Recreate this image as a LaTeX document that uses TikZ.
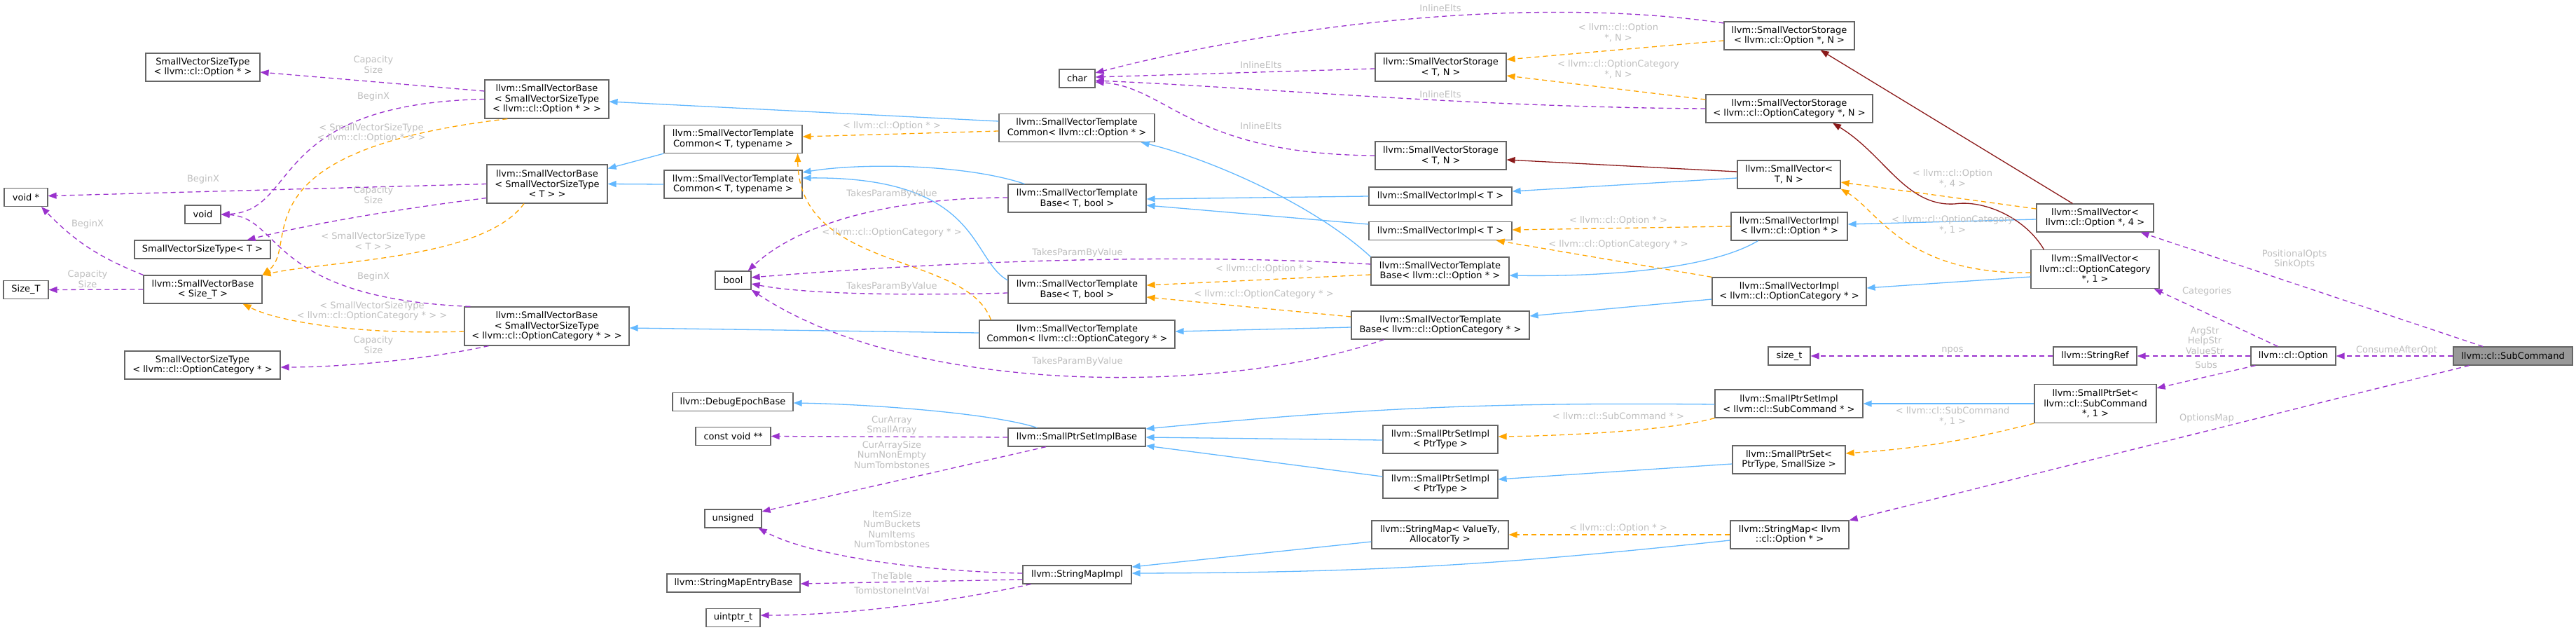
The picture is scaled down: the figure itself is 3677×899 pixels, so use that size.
\documentclass[tikz,border=0pt]{standalone}
\usepackage{fontspec}
\setmainfont{DejaVu Sans}
\usepackage{tikz}
\usetikzlibrary{arrows.meta}

\definecolor{boxgray}{HTML}{666666}
\definecolor{curgray}{HTML}{999999}
\definecolor{labgray}{HTML}{BEBEBE}
\definecolor{usecol}{HTML}{9A32CD}
\definecolor{tmplcol}{HTML}{FFA500}
\definecolor{inhcol}{HTML}{63B8FF}
\definecolor{privcol}{HTML}{8B1A1A}
\newcommand{\graphfont}{\fontsize{13}{14.5}\selectfont}

\begin{document}
\begin{tikzpicture}[x=1pt, y=1pt,
			cls/.style={draw=boxgray, fill=white, line width=1.2pt, inner sep=2pt, minimum height=26pt, align=center, font=\graphfont},
			h2/.style={minimum height=40pt},
			h3/.style={minimum height=55pt},
			cur/.style={cls, fill=curgray},
			edgebase/.style={line width=1.3pt, -{Triangle[length=12pt,width=9pt]}},
			useedge/.style={edgebase, usecol, dashed, dash pattern=on 7pt off 5pt},
			tmpledge/.style={edgebase, tmplcol, dashed, dash pattern=on 7pt off 5pt},
			inhedge/.style={edgebase, inhcol},
			privedge/.style={edgebase, privcol},
			lab/.style={font=\graphfont, text=labgray, align=center, inner sep=0pt}
			]
			\useasboundingbox (0,0) rectangle (3677,-899);
			
			% --------------------------------------------------------------------
			% left columns
			% --------------------------------------------------------------------
			\node[cls,h2,minimum width=163pt] (svstOpt) at (289.5,-96) {SmallVectorSizeType\\< llvm::cl::Option * >};
			\node[cls,minimum width=62pt] (voidPtr) at (37,-281.5) {void *};
			\node[cls,minimum width=51pt] (voidT) at (289.5,-306) {void};
			\node[cls,minimum width=194pt] (svstT) at (289,-356) {SmallVectorSizeType< T >};
			\node[cls,minimum width=64pt] (sizeT) at (37,-413.5) {Size\_T};
			\node[cls,h2,minimum width=169pt] (svbSize) at (289.5,-413) {llvm::SmallVectorBase\\< Size\_T >};
			\node[cls,h2,minimum width=222pt] (svstCat) at (289,-521) {SmallVectorSizeType\\< llvm::cl::OptionCategory * >};
			
			\node[cls,h3,minimum width=177pt] (svbOpt) at (780.5,-141.5) {llvm::SmallVectorBase\\< SmallVectorSizeType\\< llvm::cl::Option * > >};
			\node[cls,h3,minimum width=172pt] (svbT) at (781,-262.5) {llvm::SmallVectorBase\\< SmallVectorSizeType\\< T > >};
			\node[cls,h3,minimum width=235pt] (svbCat) at (780.5,-465.5) {llvm::SmallVectorBase\\< SmallVectorSizeType\\< llvm::cl::OptionCategory * > >};
			
			\node[cls,h2,minimum width=197pt] (svtcA) at (1046.5,-198.5) {llvm::SmallVectorTemplate\\Common< T, typename >};
			\node[cls,h2,minimum width=197pt] (svtcB) at (1046.5,-263) {llvm::SmallVectorTemplate\\Common< T, typename >};
			\node[cls,minimum width=51pt] (boolT) at (1046.5,-400) {bool};
			\node[cls,minimum width=172pt] (epoch) at (1046,-573.5) {llvm::DebugEpochBase};
			\node[cls,minimum width=107pt] (cvoid) at (1046.5,-622.5) {const void **};
			\node[cls,minimum width=81pt] (unsignedT) at (1046.5,-740) {unsigned};
			\node[cls,minimum width=190pt] (smEntry) at (1047,-832) {llvm::StringMapEntryBase};
			\node[cls,minimum width=77pt] (uintptrT) at (1046.5,-881.5) {uintptr\_t};
			
			% --------------------------------------------------------------------
			% middle columns
			% --------------------------------------------------------------------
			\node[cls,minimum width=51pt] (charT) at (1537.5,-112) {char};
			\node[cls,h2,minimum width=222pt] (svtcOpt) at (1537,-182.5) {llvm::SmallVectorTemplate\\Common< llvm::cl::Option * >};
			\node[cls,h2,minimum width=197pt] (svtbA) at (1537.5,-283) {llvm::SmallVectorTemplate\\Base< T, bool >};
			\node[cls,h2,minimum width=197pt] (svtbB) at (1537.5,-413) {llvm::SmallVectorTemplate\\Base< T, bool >};
			\node[cls,h2,minimum width=279pt] (svtcCat) at (1537.5,-477) {llvm::SmallVectorTemplate\\Common< llvm::cl::OptionCategory * >};
			\node[cls,minimum width=196pt] (spsBase) at (1537,-624) {llvm::SmallPtrSetImplBase};
			\node[cls,minimum width=155pt] (smImpl) at (1537.5,-820) {llvm::StringMapImpl};
			
			\node[cls,h2,minimum width=187pt] (svsA) at (2056.5,-96) {llvm::SmallVectorStorage\\< T, N >};
			\node[cls,h2,minimum width=187pt] (svsB) at (2056.5,-222) {llvm::SmallVectorStorage\\< T, N >};
			\node[cls,minimum width=204pt] (sviA) at (2056,-280) {llvm::SmallVectorImpl< T >};
			\node[cls,minimum width=204pt] (sviB) at (2056,-329.5) {llvm::SmallVectorImpl< T >};
			\node[cls,h2,minimum width=197pt] (svtbOpt) at (2055.5,-387) {llvm::SmallVectorTemplate\\Base< llvm::cl::Option * >};
			\node[cls,h2,minimum width=254pt] (svtbCat) at (2056,-464) {llvm::SmallVectorTemplate\\Base< llvm::cl::OptionCategory * >};
			\node[cls,h2,minimum width=164pt] (spsiA) at (2056,-627) {llvm::SmallPtrSetImpl\\< PtrType >};
			\node[cls,h2,minimum width=164pt] (spsiB) at (2056,-691) {llvm::SmallPtrSetImpl\\< PtrType >};
			\node[cls,h2,minimum width=195pt] (smVA) at (2055.5,-763) {llvm::StringMap< ValueTy,\\AllocatorTy >};
			
			% --------------------------------------------------------------------
			% right columns
			% --------------------------------------------------------------------
			\node[cls,h2,minimum width=186pt] (svsOpt) at (2554,-51) {llvm::SmallVectorStorage\\< llvm::cl::Option *, N >};
			\node[cls,h2,minimum width=238pt] (svsCat) at (2554,-155) {llvm::SmallVectorStorage\\< llvm::cl::OptionCategory *, N >};
			\node[cls,h2,minimum width=147pt] (svTN) at (2553.5,-249) {llvm::SmallVector<\\T, N >};
			\node[cls,h2,minimum width=166pt] (sviOpt) at (2554,-323) {llvm::SmallVectorImpl\\< llvm::cl::Option * >};
			\node[cls,h2,minimum width=220pt] (sviCat) at (2554,-416) {llvm::SmallVectorImpl\\< llvm::cl::OptionCategory * >};
			\node[cls,minimum width=60pt] (sizetT) at (2554,-508) {size\_t};
			\node[cls,h2,minimum width=211pt] (spsiSub) at (2553.5,-576) {llvm::SmallPtrSetImpl\\< llvm::cl::SubCommand * >};
			\node[cls,h2,minimum width=161pt] (spsPT) at (2553.5,-656) {llvm::SmallPtrSet<\\PtrType, SmallSize >};
			\node[cls,h2,minimum width=169pt] (smOpt) at (2554.5,-763) {llvm::StringMap< llvm\\::cl::Option * >};
			
			\node[cls,h2,minimum width=167pt] (svOpt4) at (2990.5,-311) {llvm::SmallVector<\\llvm::cl::Option *, 4 >};
			\node[cls,h3,minimum width=183pt] (svCat1) at (2990.5,-384) {llvm::SmallVector<\\llvm::cl::OptionCategory\\*, 1 >};
			\node[cls,minimum width=119pt] (strRef) at (2990.5,-508) {llvm::StringRef};
			\node[cls,h3,minimum width=174pt] (spsSub) at (2991,-576) {llvm::SmallPtrSet<\\llvm::cl::SubCommand\\*, 1 >};
			\node[cls,minimum width=121pt] (clOption) at (3273.5,-508) {llvm::cl::Option};
			\node[cur,minimum width=170pt] (subCmd) at (3587,-508) {llvm::cl::SubCommand};
			
			% --------------------------------------------------------------------
			% member usage (purple)
			% --------------------------------------------------------------------
			\draw[useedge] ([yshift=11.5pt]svbOpt.west) -- ([yshift=-7pt]svstOpt.east);
			\draw[useedge] (svbOpt.west) .. controls +(-312,-7) and +(113,5) .. (voidT.east);
			\draw[useedge] (svbT.west) -- ([yshift=2pt]voidPtr.east);
			\draw[useedge] ([yshift=-20pt]svbT.west) .. controls +(-120,-15) and +(100,25) .. ([xshift=-34pt]svstT.north east);
			\draw[useedge] (svbSize.north west) to[bend left=12] ([xshift=22pt]voidPtr.south);
			\draw[useedge] (svbSize.west) -- (sizeT.east);
			\draw[useedge] ([xshift=9pt]svbCat.north west) .. controls +(-292,12) and +(88,-4) .. (voidT.east);
			\draw[useedge] ([xshift=35pt]svbCat.south west) .. controls +(-98,-21) and +(80,0) .. ([yshift=-3pt]svstCat.east);
			
			\draw[useedge] ([yshift=18pt]svsOpt.west) .. controls +(-261,38) and +(287,74) .. ([yshift=8pt]charT.east);
			\draw[useedge] ([yshift=-2pt]svsA.west) -- ([yshift=2pt]charT.east);
			\draw[useedge] (svsCat.west) .. controls +(-335,2) and +(237,-10) .. ([yshift=-3pt]charT.east);
			\draw[useedge] (svsB.west) .. controls +(-263,2) and +(105,-8) .. ([yshift=-5pt]charT.east);
			
			\draw[useedge] ([yshift=1pt]svtbA.west) .. controls +(-139,0) and +(83,77) .. ([xshift=-5pt]boolT.north east);
			\draw[useedge] ([yshift=10pt]svtbOpt.west) .. controls +(-207,12) and +(378,31) .. ([yshift=4pt]boolT.east);
			\draw[useedge] ([yshift=-5pt]svtbB.west) .. controls +(-139,-4) and +(78,-15) .. ([yshift=-5pt]boolT.east);
			\draw[useedge] ([xshift=47pt]svtbCat.south west) .. controls +(-226,-80) and +(228,-152) .. (boolT.south east);
			
			\draw[useedge] (spsBase.west) -- (cvoid.east);
			\draw[useedge] ([xshift=-44pt]spsBase.south) -- ([yshift=10pt]unsignedT.east);
			\draw[useedge] ([yshift=2pt]smImpl.west) .. controls +(-157,3) and +(68,-37) .. ([xshift=-5pt]unsignedT.south east);
			\draw[useedge] ([yshift=-7pt]smImpl.west) -- ([yshift=-1pt]smEntry.east);
			\draw[useedge] ([xshift=12pt]smImpl.south west) .. controls +(-122,-27) and +(115,0) .. ([yshift=3.5pt]uintptrT.east);
			
			\draw[useedge] (strRef.west) -- (sizetT.east);
			\draw[useedge] (clOption.west) -- (strRef.east);
			\draw[useedge] ([xshift=-22pt]clOption.north) -- ([xshift=-8pt]svCat1.south east);
			\draw[useedge] ([xshift=7pt]clOption.south west) -- ([yshift=-6pt]spsSub.north east);
			\draw[useedge] (subCmd.west) -- (clOption.east);
			\draw[useedge] ([xshift=-43pt]subCmd.north) -- ([xshift=-19pt]svOpt4.south east);
			\draw[useedge] ([xshift=23pt]subCmd.south west) -- (smOpt.north east);
			
			% --------------------------------------------------------------------
			% public inheritance (blue)
			% --------------------------------------------------------------------
			\draw[inhedge] ([yshift=9.5pt]svtcOpt.west) -- ([yshift=-3.5pt]svbOpt.east);
			\draw[inhedge] (svtcA.south west) -- ([yshift=22pt]svbT.east);
			\draw[inhedge] (svtcB.west) -- (svbT.east);
			\draw[inhedge] ([xshift=24pt]svtbA.north west) .. controls +(-83,28) and +(85,14) .. ([yshift=17pt]svtcB.east);
			\draw[inhedge] ([yshift=13pt]svtbB.west) .. controls +(-54,30) and +(255,2) .. ([yshift=9pt]svtcB.east);
			\draw[inhedge] (sviA.west) -- ([yshift=-1pt]svtbA.east);
			\draw[inhedge] ([yshift=9.5pt]sviB.west) -- ([yshift=-10pt]svtbA.east);
			\draw[inhedge] (svtbOpt.north west) .. controls +(-85,78) and +(92,-22) .. ([xshift=-20pt]svtcOpt.south east);
			\draw[inhedge] ([xshift=39pt]sviOpt.south west) .. controls +(-70,-42) and +(126,-2) .. ([yshift=-6pt]svtbOpt.east);
			\draw[inhedge] ([yshift=-11pt]sviCat.west) -- ([yshift=13pt]svtbCat.east);
			\draw[inhedge] ([yshift=-3pt]svtbCat.west) -- ([yshift=4pt]svtcCat.east);
			\draw[inhedge] ([yshift=2pt]svtcCat.west) -- ([yshift=-2.5pt]svbCat.east);
			\draw[inhedge] ([yshift=-5pt]svTN.west) -- ([yshift=7pt]sviA.east);
			\draw[inhedge] ([yshift=-2pt]svOpt4.west) -- ([yshift=3pt]sviOpt.east);
			\draw[inhedge] ([yshift=-11pt]svCat1.west) -- ([yshift=5pt]sviCat.east);
			
			\draw[inhedge] ([yshift=-1pt]spsiSub.west) to[bend right=3] ([yshift=12pt]spsBase.east);
			\draw[inhedge] ([yshift=-1pt]spsiA.west) -- (spsBase.east);
			\draw[inhedge] ([yshift=11pt]spsiB.west) -- ([yshift=-12pt]spsBase.east);
			\draw[inhedge] ([yshift=-6pt]spsPT.west) -- ([yshift=7pt]spsiB.east);
			\draw[inhedge] (spsSub.west) -- (spsiSub.east);
			\draw[inhedge] ([xshift=42pt]spsBase.north west) .. controls +(-61,20) and +(118,-2) .. ([yshift=-1.5pt]epoch.east);
			\draw[inhedge] ([yshift=-10pt]smVA.west) -- ([yshift=11pt]smImpl.east);
			\draw[inhedge] ([yshift=-8pt]smOpt.west) to[bend left=3] ([yshift=2pt]smImpl.east);
			
			% --------------------------------------------------------------------
			% private inheritance (dark red)
			% --------------------------------------------------------------------
			\draw[privedge] ([yshift=4pt]svTN.west) -- ([yshift=-6pt]svsB.east);
			\draw[privedge] ([xshift=52pt]svOpt4.north west) -- ([xshift=-49pt]svsOpt.south east);
			\draw[privedge] ([xshift=19pt]svCat1.north west) .. controls +(-28,47) and +(40,6) .. (2790,-291)
				.. controls +(-70,-4) and +(74,-45) .. ([xshift=62pt]svsCat.south);
			
			% --------------------------------------------------------------------
			% template instances (orange)
			% --------------------------------------------------------------------
			\draw[tmpledge] ([xshift=33pt]svbOpt.south west) .. controls +(-395,-46) and +(56,43) .. (svbSize.north east);
			\draw[tmpledge] ([xshift=-33pt]svbT.south) .. controls +(-58,-80) and +(96,21) .. (svbSize.north east);
			\draw[tmpledge] ([yshift=-7.5pt]svbCat.west) .. controls +(-143,-5) and +(54,-27) .. ([xshift=-28pt]svbSize.south east);
			\draw[tmpledge] ([yshift=-4.5pt]svtcOpt.west) -- ([yshift=3.5pt]svtcA.east);
			\draw[tmpledge] ([xshift=17pt]svtcCat.north west) .. controls +(-35,97) and +(2,-170) .. ([xshift=-7pt]svtcA.south east);
			\draw[tmpledge] ([yshift=-7pt]svsOpt.west) -- ([yshift=11pt]svsA.east);
			\draw[tmpledge] ([yshift=13pt]svsCat.west) -- ([yshift=-12pt]svsA.east);
			\draw[tmpledge] ([yshift=13pt]svOpt4.west) -- ([yshift=-11pt]svTN.east);
			\draw[tmpledge] ([yshift=-5pt]svCat1.west) .. controls +(-179,-3) and +(53,-31) .. (svTN.south east);
			\draw[tmpledge] (sviOpt.west) -- ([yshift=1.5pt]sviB.east);
			\draw[tmpledge] (sviCat.north west) -- ([xshift=-23pt]sviB.south east);
			\draw[tmpledge] ([yshift=-5pt]svtbOpt.west) -- ([yshift=6pt]svtbB.east);
			\draw[tmpledge] ([yshift=12pt]svtbCat.west) -- ([yshift=-11pt]svtbB.east);
			\draw[tmpledge] (spsiSub.south west) .. controls +(-68,-19) and +(82,1) .. ([yshift=4pt]spsiA.east);
			\draw[tmpledge] (spsSub.south west) to[bend left=5] ([yshift=9pt]spsPT.east);
			\draw[tmpledge] (smOpt.west) -- (smVA.east);
			
			% --------------------------------------------------------------------
			% edge labels
			% --------------------------------------------------------------------
			\node[lab] (labA1) at (533,-92) {Capacity\\Size};
			\node[lab] (labA2) at (533,-138) {BeginX};
			\node[lab] (labA3) at (530,-190) {< SmallVectorSizeType\\< llvm::cl::Option * > >};
			\node[lab] (labA4) at (290,-256) {BeginX};
			\node[lab] (labA5) at (533,-278) {Capacity\\Size};
			\node[lab] (labA6) at (125,-320) {BeginX};
			\node[lab] (labA7) at (533,-344) {< SmallVectorSizeType\\< T > >};
			\node[lab] (labA8) at (125,-398) {Capacity\\Size};
			\node[lab] (labA9) at (533,-395) {BeginX};
			\node[lab] (labA10) at (531,-444) {< SmallVectorSizeType\\< llvm::cl::OptionCategory * > >};
			\node[lab] (labA11) at (533,-492) {Capacity\\Size};
			
			\node[lab] (labB1) at (1273,-180) {< llvm::cl::Option * >};
			\node[lab] (labB2) at (1273,-277) {TakesParamByValue};
			\node[lab] (labB3) at (1273,-332) {< llvm::cl::OptionCategory * >};
			\node[lab] (labB4) at (1538,-361) {TakesParamByValue};
			\node[lab] (labB5) at (1273,-409) {TakesParamByValue};
			\node[lab] (labB6) at (1538,-516) {TakesParamByValue};
			\node[lab] (labB7) at (1273,-607) {CurArray\\SmallArray};
			\node[lab] (labB8) at (1273,-649) {CurArraySize\\NumNonEmpty\\NumTombstones};
			\node[lab] (labB9) at (1273,-755) {ItemSize\\NumBuckets\\NumItems\\NumTombstones};
			\node[lab] (labB10) at (1273,-822) {TheTable};
			\node[lab] (labB11) at (1273,-843) {TombstoneIntVal};
			
			\node[lab] (labC1) at (2056,-12) {InlineElts};
			\node[lab] (labC2) at (1800,-93) {InlineElts};
			\node[lab] (labC3) at (2056,-135) {InlineElts};
			\node[lab] (labC4) at (1800,-180) {InlineElts};
			\node[lab] (labC5) at (1805,-384) {< llvm::cl::Option * >};
			\node[lab] (labC6) at (1804,-420) {< llvm::cl::OptionCategory * >};
			
			\node[lab] (labD1) at (2310,-47) {< llvm::cl::Option\\*, N >};
			\node[lab] (labD2) at (2310,-99) {< llvm::cl::OptionCategory\\*, N >};
			\node[lab] (labD3) at (2310,-315) {< llvm::cl::Option * >};
			\node[lab] (labD4) at (2310,-349) {< llvm::cl::OptionCategory * >};
			\node[lab] (labD5) at (2310,-594) {< llvm::cl::SubCommand * >};
			\node[lab] (labD6) at (2310,-754) {< llvm::cl::Option * >};
			
			\node[lab] (labE1) at (2787,-255) {< llvm::cl::Option\\*, 4 >};
			\node[lab] (labE2) at (2787,-321) {< llvm::cl::OptionCategory\\*, 1 >};
			\node[lab] (labE3) at (2787,-500) {npos};
			\node[lab] (labE4) at (2787,-594) {< llvm::cl::SubCommand\\*, 1 >};
			
			\node[lab] (labF1) at (3147,-486) {ArgStr\\HelpStr\\ValueStr};
			\node[lab] (labF2) at (3150,-416) {Categories};
			\node[lab] (labF3) at (3149,-521) {Subs};
			\node[lab] (labF4) at (3421,-500) {ConsumeAfterOpt};
			\node[lab] (labF5) at (3275,-370) {PositionalOpts\\SinkOpts};
			\node[lab] (labF6) at (3150,-597) {OptionsMap};
			
		\end{tikzpicture}
\end{document}
